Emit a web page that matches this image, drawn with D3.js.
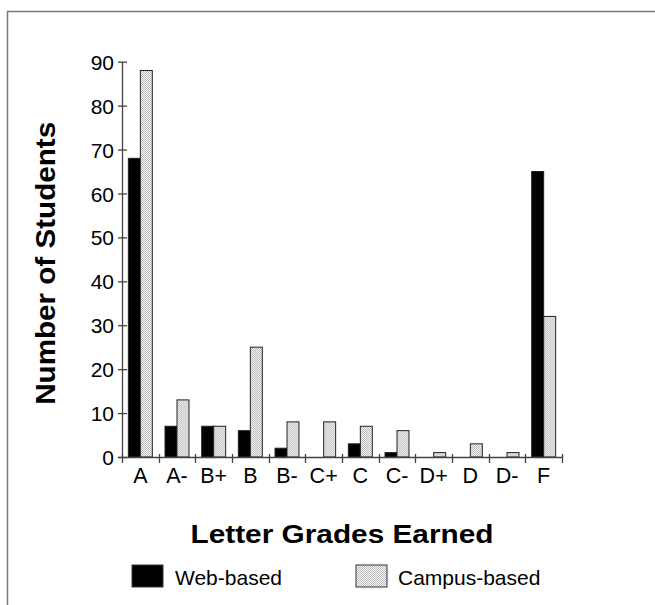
<!DOCTYPE html>
<html>
<head>
<meta charset="utf-8">
<script src="https://cdn.jsdelivr.net/npm/d3@7"></script>
<style>
  html, body { margin: 0; padding: 0; background: #fff; }
  svg { display: block; font-family: "Liberation Sans", Arial, sans-serif; }
</style>
</head>
<body>
<svg id="chart" width="655" height="605"></svg>
<script>
const categories = ["A", "A-", "B+", "B", "B-", "C+", "C", "C-", "D+", "D", "D-", "F"];
const seriesNames = ["Web-based", "Campus-based"];
const webValues = [68, 7, 7, 6, 2, 0, 3, 1, 0, 0, 0, 65];
const campusValues = [88, 13, 7, 25, 8, 8, 7, 6, 1, 3, 1, 32];
const yTicks = [0, 10, 20, 30, 40, 50, 60, 70, 80, 90];
const xTitle = "Letter Grades Earned";
const yTitle = "Number of Students";

const svg = d3.select("#chart");
const FONT = "'Liberation Sans', Arial, sans-serif";

// pattern for campus bars
const defs = svg.append("defs");
const pat = defs.append("pattern").attr("id", "dots")
  .attr("width", 2).attr("height", 2).attr("patternUnits", "userSpaceOnUse");
pat.append("rect").attr("width", 2).attr("height", 2).attr("fill", "#f4f4f4");
pat.append("rect").attr("width", 1).attr("height", 1).attr("fill", "#bdbdbd");
pat.append("rect").attr("x", 1).attr("y", 1).attr("width", 1).attr("height", 1).attr("fill", "#bdbdbd");

// outer frame
svg.append("rect").attr("x", 7.5).attr("y", 11.5).attr("width", 800).attr("height", 800)
  .attr("fill", "none").attr("stroke", "#7a7a7a").attr("stroke-width", 1.5);

const plotLeft = 122, plotRight = 562, plotTop = 61.7, plotBottom = 457;

const x = d3.scaleBand().domain(categories).range([plotLeft, plotRight]).paddingInner(0).paddingOuter(0);
const xs = d3.scaleBand().domain(seriesNames).range([0, x.bandwidth()]).paddingInner(0).paddingOuter(0.53);
const y = d3.scaleLinear().domain([0, 90]).range([plotBottom, plotTop]);

const data = categories.map((c, i) => ({ cat: c, values: [
  { name: seriesNames[0], v: webValues[i] },
  { name: seriesNames[1], v: campusValues[i] }
]}));

const fills = { "Web-based": "#000", "Campus-based": "url(#dots)" };

// bars
const groups = svg.append("g").selectAll("g").data(data).join("g")
  .attr("transform", d => `translate(${x(d.cat)},0)`);
groups.selectAll("rect").data(d => d.values).join("rect")
  .attr("x", d => xs(d.name))
  .attr("y", d => y(d.v))
  .attr("width", xs.bandwidth())
  .attr("height", d => y(0) - y(d.v))
  .attr("fill", d => fills[d.name])
  .attr("stroke", "#222")
  .attr("stroke-width", 1);

// y axis
const yAxis = svg.append("g").attr("transform", `translate(${plotLeft},0)`)
  .call(d3.axisLeft(y).tickValues(yTicks).tickFormat(d3.format("d")).tickSize(4).tickPadding(4));
yAxis.selectAll(".tick line").attr("x1", 5).attr("x2", -4);
yAxis.select(".domain").attr("d", `M0.5,${plotTop}V${plotBottom}`);
yAxis.selectAll("path, line").attr("stroke", "#444").attr("stroke-width", 1.3);
yAxis.selectAll("text").attr("font-size", 21).attr("fill", "#000")
  .attr("font-family", FONT).attr("dy", "0.36em");

// x axis (labels at band centers)
const xAxis = svg.append("g").attr("transform", `translate(0,${plotBottom})`)
  .call(d3.axisBottom(x).tickSize(0).tickPadding(11));
xAxis.select(".domain").attr("d", `M${plotLeft - 4},0.5H${plotRight + 1}`)
  .attr("stroke", "#444").attr("stroke-width", 1.3);
xAxis.selectAll("text").attr("font-size", 21.5).attr("fill", "#000")
  .attr("font-family", FONT);
// boundary ticks
const bounds = categories.map(c => x(c)).concat([x(categories[categories.length - 1]) + x.bandwidth()]);
xAxis.selectAll(".bound").data(bounds).join("line").attr("class", "bound")
  .attr("x1", d => Math.round(d) + 0.5).attr("x2", d => Math.round(d) + 0.5)
  .attr("y1", -3).attr("y2", 6).attr("stroke", "#444").attr("stroke-width", 1.3);

// axis titles
svg.append("text").attr("x", (plotLeft + plotRight) / 2).attr("y", 543)
  .attr("text-anchor", "middle").attr("font-size", 26).attr("font-weight", "bold")
  .attr("textLength", 303).attr("lengthAdjust", "spacingAndGlyphs")
  .text(xTitle);
svg.append("text").attr("transform", `translate(55,${(plotTop + plotBottom) / 2 + 4}) rotate(-90)`)
  .attr("text-anchor", "middle").attr("font-size", 27.5).attr("font-weight", "bold")
  .attr("textLength", 283).attr("lengthAdjust", "spacingAndGlyphs")
  .text(yTitle);

// legend
const legendPos = [{ rx: 132, tx: 175 }, { rx: 356, tx: 398 }];
const legend = svg.append("g").selectAll("g").data(seriesNames).join("g");
legend.append("rect")
  .attr("x", (d, i) => legendPos[i].rx).attr("y", 565).attr("width", 31).attr("height", 22)
  .attr("fill", d => fills[d]).attr("stroke", "#333").attr("stroke-width", 1);
legend.append("text")
  .attr("x", (d, i) => legendPos[i].tx).attr("y", 585)
  .attr("font-size", 21).attr("fill", "#000").attr("font-family", FONT).text(d => d);
</script>
</body>
</html>
